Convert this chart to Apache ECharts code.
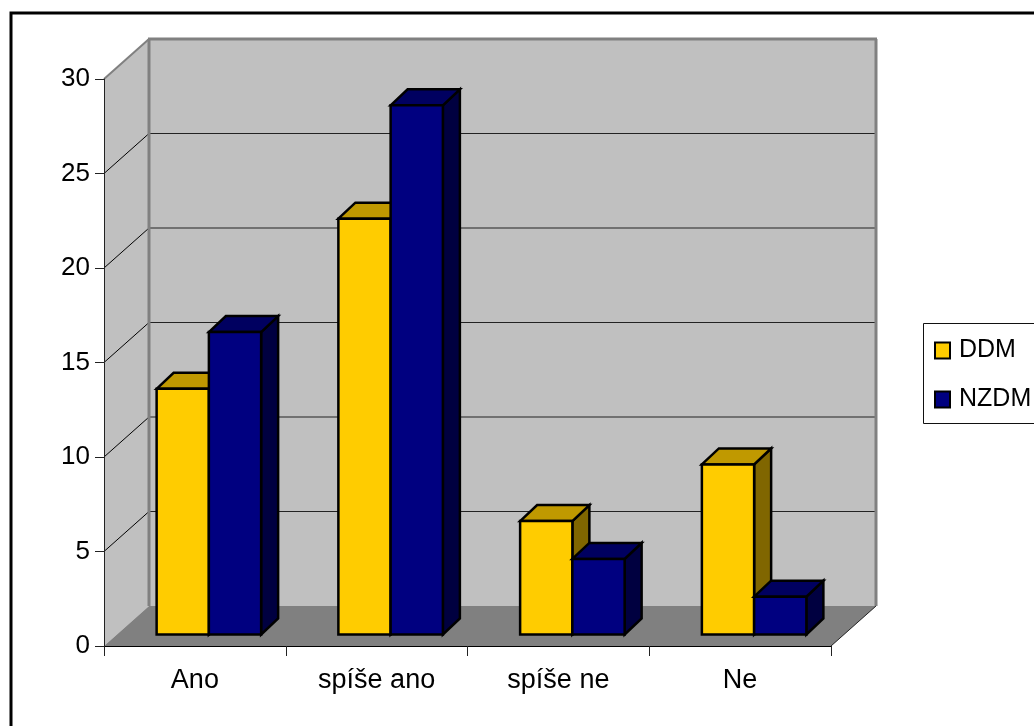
<!DOCTYPE html>
<html><head><meta charset="utf-8">
<style>html,body{margin:0;padding:0;background:#fff}#c{width:1034px;height:726px}</style>
<script src="https://cdn.jsdelivr.net/npm/echarts@6/dist/echarts.min.js"></script>
</head><body><div id="c"></div>
<script>
const categories = ['Ano', 'spíše ano', 'spíše ne', 'Ne'];
const ddm = [13, 22, 6, 9];
const nzdm = [16, 28, 4, 2];
const wallTicks = [5, 10, 15, 20, 25];
const yMax = 30, yStep = 5;

const FONT = '"Liberation Sans",Arial,sans-serif';
const WALL_DX = 45, WALL_DY = -40;      // depth of the chart box
const PLANE_DX = 14, PLANE_DY = -11.5;  // bars stand this far back
const BAR_DX = 17, BAR_DY = -16;        // depth of a bar
const BAR_FRAC = 0.2875;                // bar width as a share of a category

function poly(points, fill, stroke, lw) {
  return { type: 'polygon', shape: { points }, style: { fill, stroke: stroke || null, lineWidth: lw || 0, lineJoin: 'miter' } };
}
function line(x1, y1, x2, y2, stroke, lw) {
  return { type: 'line', shape: { x1, y1, x2, y2 }, style: { stroke, lineWidth: lw } };
}

function renderWalls(params, api) {
  const cs = params.coordSys;
  const L = cs.x, R = cs.x + cs.width, B = api.coord([0, 0])[1], T = api.coord([0, yMax])[1];
  const children = [
    poly([[L + WALL_DX, T + WALL_DY], [R + WALL_DX, T + WALL_DY], [R + WALL_DX, B + WALL_DY], [L + WALL_DX, B + WALL_DY]], '#C0C0C0'),
    poly([[L, T], [L + WALL_DX, T + WALL_DY], [L + WALL_DX, B + WALL_DY], [L, B]], '#C0C0C0'),
    poly([[L, B], [L + WALL_DX, B + WALL_DY], [R + WALL_DX, B + WALL_DY], [R, B]], '#808080')
  ];
  wallTicks.forEach(v => {
    const y = api.coord([0, v])[1];
    children.push(line(L, y, L + WALL_DX, y + WALL_DY, '#000', 1));
    children.push(line(L + WALL_DX, y + WALL_DY, R + WALL_DX, y + WALL_DY, '#222', 1.1));
  });
  children.push(line(L + WALL_DX, T + WALL_DY, L + WALL_DX, B + WALL_DY, '#808080', 3));
  children.push(line(R + WALL_DX, T + WALL_DY, R + WALL_DX, B + WALL_DY, '#808080', 3));
  children.push(line(L + WALL_DX - 1, T + WALL_DY, R + WALL_DX + 1, T + WALL_DY, '#808080', 3));
  children.push(line(L, T, L + WALL_DX, T + WALL_DY, '#808080', 2));
  children.push(line(R, B, R + WALL_DX, B + WALL_DY, '#222', 1));
  return { type: 'group', children };
}

function barRenderer(seriesIndex, front, top, side) {
  return function (params, api) {
    const cat = api.value(0), val = api.value(1);
    const p = api.coord([cat, val]), p0 = api.coord([cat, 0]);
    const w = api.size([1, 0])[0] * BAR_FRAC;
    const x0 = p[0] + PLANE_DX - w + seriesIndex * w, x1 = x0 + w;
    const yT = p[1] + PLANE_DY, yB = p0[1] + PLANE_DY;
    const S = '#000', LW = 2.5;
    return { type: 'group', children: [
      poly([[x1, yT], [x1 + BAR_DX, yT + BAR_DY], [x1 + BAR_DX, yB + BAR_DY], [x1, yB]], side, S, LW),
      poly([[x0, yT], [x0 + BAR_DX, yT + BAR_DY], [x1 + BAR_DX, yT + BAR_DY], [x1, yT]], top, S, LW),
      poly([[x0, yT], [x1, yT], [x1, yB], [x0, yB]], front, S, LW)
    ] };
  };
}

const chart = echarts.init(document.getElementById('c'), null, { renderer: 'canvas' });
chart.setOption({
  animation: false,
  backgroundColor: '#fff',
  textStyle: { fontFamily: FONT },
  grid: { left: 104, top: 79, width: 727, height: 567, containLabel: false },
  xAxis: {
    type: 'category', data: categories, z: 5,
    axisLine: { show: true, lineStyle: { color: '#000', width: 1 } },
    axisTick: { show: true, length: 10, alignWithLabel: false, lineStyle: { color: '#222', width: 1 } },
    axisLabel: { color: '#000', fontSize: 27, fontFamily: FONT, margin: 21, interval: 0 },
    splitLine: { show: false }
  },
  yAxis: {
    type: 'value', min: 0, max: yMax, interval: yStep, z: 5,
    axisLine: { show: true, lineStyle: { color: '#222', width: 1 } },
    axisTick: { show: true, length: 9, lineStyle: { color: '#222', width: 1 } },
    axisLabel: { color: '#000', fontSize: 26, fontFamily: FONT, margin: 14, padding: [1, 0, 0, 0] },
    splitLine: { show: false }
  },
  legend: {
    orient: 'vertical', left: 934, top: 338, padding: 0, itemGap: 24,
    itemWidth: 15, itemHeight: 16, icon: 'rect', selectedMode: false,
    textStyle: { color: '#000', fontSize: 25, fontFamily: FONT, padding: [0, 0, 5, 4] },
    data: [
      { name: 'DDM', itemStyle: { color: '#FFCC00', borderColor: '#000', borderWidth: 2 } },
      { name: 'NZDM', itemStyle: { color: '#000080', borderColor: '#000', borderWidth: 2 } }
    ]
  },
  graphic: [
    { type: 'rect', silent: true, z: 0, shape: { x: 11, y: 13, width: 1200, height: 900 }, style: { fill: 'none', stroke: '#000', lineWidth: 3 } },
    { type: 'rect', silent: true, z: 0, shape: { x: 923.5, y: 323.5, width: 300, height: 100 }, style: { fill: '#fff', stroke: '#111', lineWidth: 1 } }
  ],
  series: [
    { type: 'custom', name: 'walls', z: 1, silent: true, renderItem: renderWalls, data: [[0, 0]], encode: { x: 0, y: 1 } },
    { type: 'custom', name: 'DDM', z: 2, itemStyle: { color: '#FFCC00' },
      renderItem: barRenderer(0, '#FFCC00', '#C09900', '#806600'),
      data: ddm.map((v, i) => [i, v]), encode: { x: 0, y: 1 } },
    { type: 'custom', name: 'NZDM', z: 3, itemStyle: { color: '#000080' },
      renderItem: barRenderer(1, '#000080', '#000060', '#000040'),
      data: nzdm.map((v, i) => [i, v]), encode: { x: 0, y: 1 } }
  ]
});
</script></body></html>
